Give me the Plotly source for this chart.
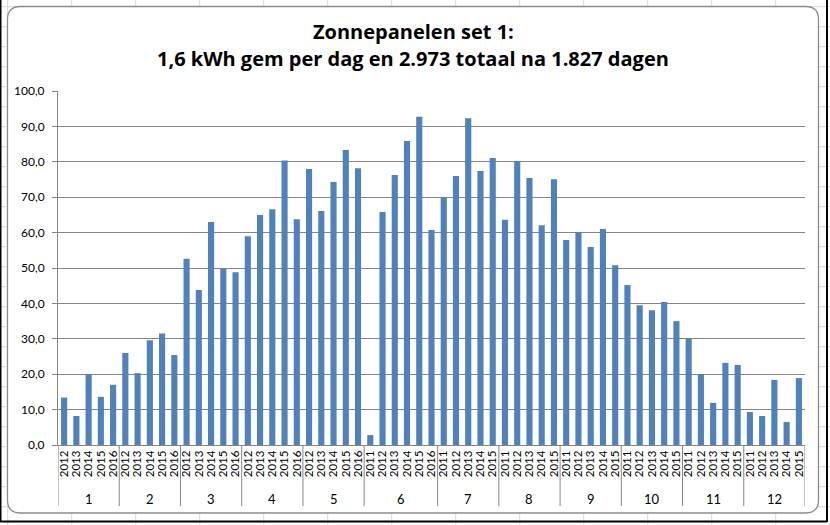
import plotly.graph_objects as go

month_names = ["1", "2", "3", "4", "5", "6", "7", "8", "9", "10", "11", "12"]
month_years = [
    ["2012", "2013", "2014", "2015", "2016"],
    ["2012", "2013", "2014", "2015", "2016"],
    ["2012", "2013", "2014", "2015", "2016"],
    ["2012", "2013", "2014", "2015", "2016"],
    ["2012", "2013", "2014", "2015", "2016"],
    ["2011", "2012", "2013", "2014", "2015", "2016"],
    ["2011", "2012", "2013", "2014", "2015"],
    ["2011", "2012", "2013", "2014", "2015"],
    ["2011", "2012", "2013", "2014", "2015"],
    ["2011", "2012", "2013", "2014", "2015"],
    ["2011", "2012", "2013", "2014", "2015"],
    ["2011", "2012", "2013", "2014", "2015"],
]
values = [
    13.4, 8.2, 20.0, 13.6, 17.0,      # 1
    26.0, 20.3, 29.6, 31.5, 25.4,     # 2
    52.6, 43.8, 63.0, 49.8, 48.8,     # 3
    59.0, 65.0, 66.6, 80.4, 63.8,     # 4
    78.0, 66.1, 74.3, 83.3, 78.2,     # 5
    2.8, 65.8, 76.3, 85.9, 92.7, 60.7,  # 6
    70.0, 76.0, 92.3, 77.4, 81.1,     # 7
    63.6, 80.2, 75.4, 62.1, 75.1,     # 8
    57.9, 60.1, 55.9, 61.0, 50.8,     # 9
    45.2, 39.5, 38.1, 40.4, 35.0,     # 10
    30.1, 20.0, 11.9, 23.2, 22.6,     # 11
    9.3, 8.2, 18.4, 6.5, 18.9,        # 12
]
title_lines = ["Zonnepanelen set 1:", "1,6 kWh gem per dag en 2.973 totaal na 1.827 dagen"]

years = [y for ys in month_years for y in ys]
xs = list(range(len(years)))

W, H = 830, 525
L, R, T, B = 58, 25, 91, 80
pw, ph = W - L - R, H - T - B

def px(x):
    return (x - L) / pw

def py(y):
    return (H - B - y) / ph

fig = go.Figure(go.Bar(
    x=xs, y=values,
    marker=dict(color="#4F81BD", line=dict(width=0)),
    width=0.5,
))

shapes = []
annotations = []
grid_col = "#d9d9d9"
# spreadsheet cell grid behind the chart
for k in range(14):
    x = 7.7 + 64 * k
    if x < W:
        shapes.append(dict(type="line", xref="paper", yref="paper", layer="below",
                           x0=px(x), x1=px(x), y0=py(0), y1=py(H),
                           line=dict(color=grid_col, width=1)))
for k in range(27):
    y = 6.7 + 20 * k
    shapes.append(dict(type="line", xref="paper", yref="paper", layer="below",
                       x0=px(0), x1=px(W), y0=py(y), y1=py(y),
                       line=dict(color=grid_col, width=1)))
# window border
for (x0, y0, x1, y1) in [(0.5, 0, 0.5, 522), (827, 0, 827, 522), (0, 521.5, 827, 521.5)]:
    shapes.append(dict(type="line", xref="paper", yref="paper", layer="below",
                       x0=px(x0), x1=px(x1), y0=py(y0), y1=py(y1),
                       line=dict(color="#000000", width=2)))
# rounded chart frame
fx0, fy0, fx1, fy1, r = 7.5, 6.5, 818.5, 513, 13
pts = [
    f"M {px(fx0 + r)},{py(fy0)}",
    f"L {px(fx1 - r)},{py(fy0)}",
    f"Q {px(fx1)},{py(fy0)} {px(fx1)},{py(fy0 + r)}",
    f"L {px(fx1)},{py(fy1 - r)}",
    f"Q {px(fx1)},{py(fy1)} {px(fx1 - r)},{py(fy1)}",
    f"L {px(fx0 + r)},{py(fy1)}",
    f"Q {px(fx0)},{py(fy1)} {px(fx0)},{py(fy1 - r)}",
    f"L {px(fx0)},{py(fy0 + r)}",
    f"Q {px(fx0)},{py(fy0)} {px(fx0 + r)},{py(fy0)}",
    "Z",
]
shapes.append(dict(type="path", xref="paper", yref="paper", layer="below",
                   path=" ".join(pts), fillcolor="white",
                   line=dict(color="#8c8c8c", width=1.3)))

# month group dividers and labels
start = 0
bounds = [-0.5]
for name, ys in zip(month_names, month_years):
    end = start + len(ys)
    bounds.append(end - 0.5)
    annotations.append(dict(x=(start + end - 1) / 2, xref="x", y=py(499), yref="paper",
                            text=name, showarrow=False, xanchor="center", yanchor="middle",
                            font=dict(size=13, family="Lato, sans-serif", color="#000000")))
    start = end
for b in bounds:
    shapes.append(dict(type="line", xref="x", yref="paper", layer="above",
                       x0=b, x1=b, y0=0, y1=py(506),
                       line=dict(color="#868686", width=1)))

# title lines
cx = 0.5 * (px(7.5) + px(818.5))
annotations.append(dict(x=cx, xref="paper", y=py(31), yref="paper",
                        text=f"<b>{title_lines[0]}</b>", showarrow=False,
                        xanchor="center", yanchor="middle",
                        font=dict(size=20, family="Open Sans, sans-serif", color="#000000")))
annotations.append(dict(x=cx, xref="paper", y=py(58), yref="paper",
                        text=f"<b>{title_lines[1]}</b>", showarrow=False,
                        xanchor="center", yanchor="middle",
                        font=dict(size=20, family="Open Sans, sans-serif", color="#000000")))

fig.update_layout(
    width=W, height=H,
    margin=dict(l=L, r=R, t=T, b=B, pad=0),
    paper_bgcolor="rgba(0,0,0,0)",
    plot_bgcolor="white",
    separators=",.",
    showlegend=False,
    shapes=shapes,
    annotations=annotations,
    font=dict(family="Lato, sans-serif", color="#000000"),
)
fig.update_xaxes(
    range=[-0.5, len(xs) - 0.5],
    tickmode="array", tickvals=xs, ticktext=years,
    tickangle=-90,
    tickfont=dict(size=11.5, family="Lato, sans-serif"),
    showline=True, linecolor="#868686", linewidth=1,
    ticks="", showgrid=False, zeroline=False,
)
fig.update_yaxes(
    range=[0, 100], dtick=10, tickformat=".1f",
    showgrid=True, gridcolor="#868686", gridwidth=1,
    showline=True, linecolor="#868686", linewidth=1,
    ticks="outside", ticklen=5, tickcolor="#868686",
    ticklabelstandoff=5,
    tickfont=dict(size=12, family="Lato, sans-serif"),
    zeroline=False,
)

fig.write_html("out.html")
